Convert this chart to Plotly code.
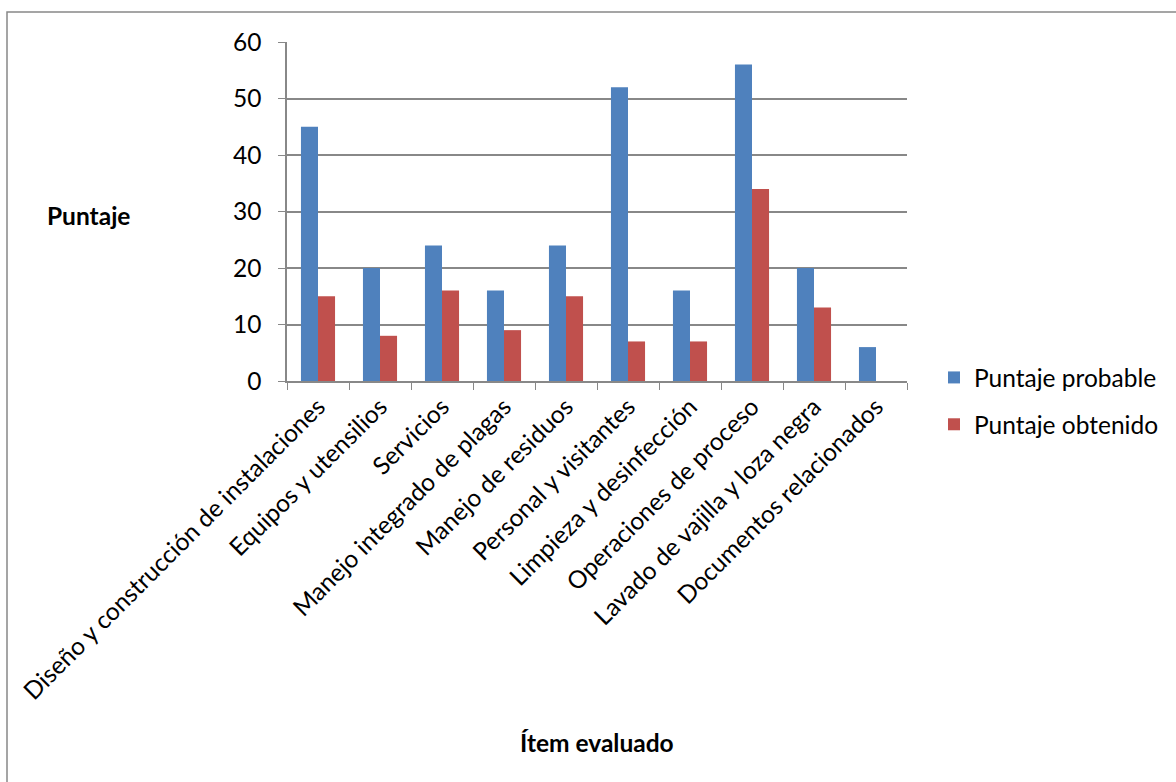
import plotly.graph_objects as go

categories = [
    "Diseño y construcción de instalaciones",
    "Equipos y utensilios",
    "Servicios",
    "Manejo integrado de plagas",
    "Manejo de residuos",
    "Personal y visitantes",
    "Limpieza y desinfección",
    "Operaciones de proceso",
    "Lavado de vajilla y loza negra",
    "Documentos relacionados",
]
puntaje_probable = [45, 20, 24, 16, 24, 52, 16, 56, 20, 6]
puntaje_obtenido = [15, 8, 16, 9, 15, 7, 7, 34, 13, 0]

FONT = "Lato, Carlito, Calibri, sans-serif"
FS = 24.5
W, H = 1176, 782
L, R, T, B = 287, 907, 42, 381

fig = go.Figure()
fig.add_trace(go.Bar(x=categories, y=puntaje_probable, name="Puntaje probable",
                     marker=dict(color="#4F81BD", line=dict(width=0)), legendgroup="a"))
fig.add_trace(go.Bar(x=categories, y=puntaje_obtenido, name="Puntaje obtenido",
                     marker=dict(color="#C0504D", line=dict(width=0)), legendgroup="b"))

def px_x(p):
    return (p - L) / (R - L)

def px_y(p):
    return (B - p) / (B - T)

fig.update_layout(
    width=W, height=H,
    margin=dict(l=L, r=W - R, t=T, b=H - B),
    paper_bgcolor="white", plot_bgcolor="white",
    font=dict(family=FONT, size=FS, color="black"),
    barmode="group", bargap=0.45, bargroupgap=0,
    showlegend=True,
    legend=dict(x=px_x(934), y=px_y(355), xanchor="left", yanchor="top",
                font=dict(family=FONT, size=FS), tracegroupgap=12,
                itemwidth=30, bgcolor="rgba(0,0,0,0)"),
    xaxis=dict(type="category", tickangle=-45, tickson="boundaries",
               ticks="outside", ticklen=7, tickcolor="#888888",
               showline=True, linecolor="#888888", linewidth=1.5,
               showgrid=False, tickfont=dict(family=FONT, size=FS)),
    yaxis=dict(range=[0, 60], dtick=10, ticks="outside", ticklen=7,
               tickcolor="#888888", showline=True, linecolor="#888888", linewidth=1.5,
               showgrid=True, gridcolor="#888888", gridwidth=1.5,
               ticklabelstandoff=12,
               tickfont=dict(family=FONT, size=FS), zeroline=False),
    annotations=[
        dict(text="<b>Puntaje</b>", x=px_x(88), y=px_y(215), xref="paper", yref="paper",
             xanchor="center", yanchor="middle",
             showarrow=False, font=dict(family=FONT, size=FS)),
        dict(text="<b>Ítem evaluado</b>", x=px_x(597), y=px_y(743), xref="paper", yref="paper",
             xanchor="center", yanchor="middle",
             showarrow=False, font=dict(family=FONT, size=FS)),
    ],
    shapes=[
        dict(type="rect", xref="paper", yref="paper",
             x0=px_x(7), x1=px_x(1190), y0=px_y(800), y1=px_y(12),
             line=dict(color="#888888", width=1.5), layer="below"),
    ],
)

fig.write_html("out.html")
